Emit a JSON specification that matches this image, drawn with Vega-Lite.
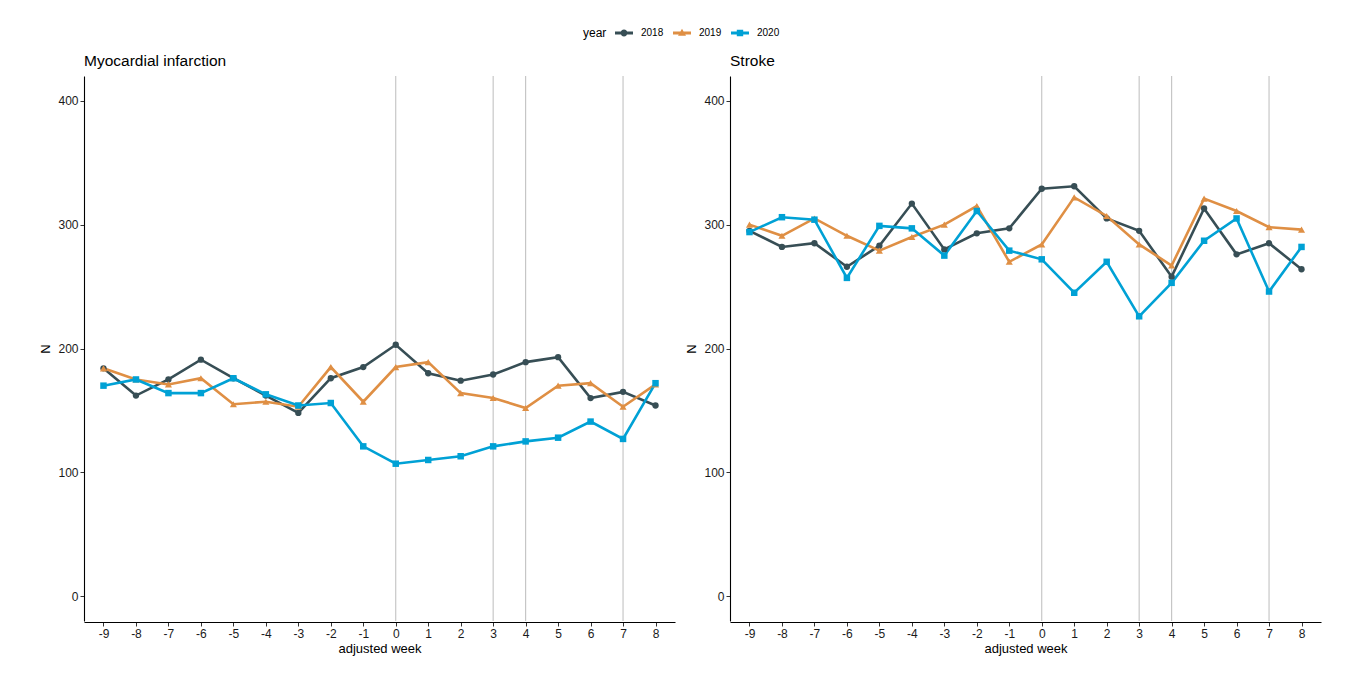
{
  "$schema": "https://vega.github.io/schema/vega-lite/v6.json",
  "background": "white",
  "padding": {"left": 39, "top": 28, "right": 5, "bottom": 5},
  "config": {
    "font": "Liberation Sans",
    "view": {"stroke": null},
    "axis": {"domainColor": "#000", "domainWidth": 1.1, "tickColor": "#333", "tickSize": 4, "tickWidth": 1, "labelColor": "#1a1a1a", "labelFontSize": 12, "labelPadding": 2, "titleFontSize": 13, "titleFontWeight": "normal", "titleColor": "#000", "labelFont": "Liberation Sans", "titleFont": "Liberation Sans", "grid": false},
    "axisY": {"titlePadding": 5},
    "axisX": {"titlePadding": 3}
  },
  "data": {"values": [
    {"panel":"Myocardial infarction","year":"2018","week":-9,"N":184},
    {"panel":"Myocardial infarction","year":"2018","week":-8,"N":162},
    {"panel":"Myocardial infarction","year":"2018","week":-7,"N":175},
    {"panel":"Myocardial infarction","year":"2018","week":-6,"N":191},
    {"panel":"Myocardial infarction","year":"2018","week":-5,"N":176},
    {"panel":"Myocardial infarction","year":"2018","week":-4,"N":162},
    {"panel":"Myocardial infarction","year":"2018","week":-3,"N":148},
    {"panel":"Myocardial infarction","year":"2018","week":-2,"N":176},
    {"panel":"Myocardial infarction","year":"2018","week":-1,"N":185},
    {"panel":"Myocardial infarction","year":"2018","week":0,"N":203},
    {"panel":"Myocardial infarction","year":"2018","week":1,"N":180},
    {"panel":"Myocardial infarction","year":"2018","week":2,"N":174},
    {"panel":"Myocardial infarction","year":"2018","week":3,"N":179},
    {"panel":"Myocardial infarction","year":"2018","week":4,"N":189},
    {"panel":"Myocardial infarction","year":"2018","week":5,"N":193},
    {"panel":"Myocardial infarction","year":"2018","week":6,"N":160},
    {"panel":"Myocardial infarction","year":"2018","week":7,"N":165},
    {"panel":"Myocardial infarction","year":"2018","week":8,"N":154},
    {"panel":"Myocardial infarction","year":"2019","week":-9,"N":184},
    {"panel":"Myocardial infarction","year":"2019","week":-8,"N":175},
    {"panel":"Myocardial infarction","year":"2019","week":-7,"N":171},
    {"panel":"Myocardial infarction","year":"2019","week":-6,"N":176},
    {"panel":"Myocardial infarction","year":"2019","week":-5,"N":155},
    {"panel":"Myocardial infarction","year":"2019","week":-4,"N":157},
    {"panel":"Myocardial infarction","year":"2019","week":-3,"N":153},
    {"panel":"Myocardial infarction","year":"2019","week":-2,"N":185},
    {"panel":"Myocardial infarction","year":"2019","week":-1,"N":157},
    {"panel":"Myocardial infarction","year":"2019","week":0,"N":185},
    {"panel":"Myocardial infarction","year":"2019","week":1,"N":189},
    {"panel":"Myocardial infarction","year":"2019","week":2,"N":164},
    {"panel":"Myocardial infarction","year":"2019","week":3,"N":160},
    {"panel":"Myocardial infarction","year":"2019","week":4,"N":152},
    {"panel":"Myocardial infarction","year":"2019","week":5,"N":170},
    {"panel":"Myocardial infarction","year":"2019","week":6,"N":172},
    {"panel":"Myocardial infarction","year":"2019","week":7,"N":153},
    {"panel":"Myocardial infarction","year":"2019","week":8,"N":171},
    {"panel":"Myocardial infarction","year":"2020","week":-9,"N":170},
    {"panel":"Myocardial infarction","year":"2020","week":-8,"N":175},
    {"panel":"Myocardial infarction","year":"2020","week":-7,"N":164},
    {"panel":"Myocardial infarction","year":"2020","week":-6,"N":164},
    {"panel":"Myocardial infarction","year":"2020","week":-5,"N":176},
    {"panel":"Myocardial infarction","year":"2020","week":-4,"N":163},
    {"panel":"Myocardial infarction","year":"2020","week":-3,"N":154},
    {"panel":"Myocardial infarction","year":"2020","week":-2,"N":156},
    {"panel":"Myocardial infarction","year":"2020","week":-1,"N":121},
    {"panel":"Myocardial infarction","year":"2020","week":0,"N":107},
    {"panel":"Myocardial infarction","year":"2020","week":1,"N":110},
    {"panel":"Myocardial infarction","year":"2020","week":2,"N":113},
    {"panel":"Myocardial infarction","year":"2020","week":3,"N":121},
    {"panel":"Myocardial infarction","year":"2020","week":4,"N":125},
    {"panel":"Myocardial infarction","year":"2020","week":5,"N":128},
    {"panel":"Myocardial infarction","year":"2020","week":6,"N":141},
    {"panel":"Myocardial infarction","year":"2020","week":7,"N":127},
    {"panel":"Myocardial infarction","year":"2020","week":8,"N":172},
    {"panel":"Stroke","year":"2018","week":-9,"N":295},
    {"panel":"Stroke","year":"2018","week":-8,"N":282},
    {"panel":"Stroke","year":"2018","week":-7,"N":285},
    {"panel":"Stroke","year":"2018","week":-6,"N":266},
    {"panel":"Stroke","year":"2018","week":-5,"N":283},
    {"panel":"Stroke","year":"2018","week":-4,"N":317},
    {"panel":"Stroke","year":"2018","week":-3,"N":280},
    {"panel":"Stroke","year":"2018","week":-2,"N":293},
    {"panel":"Stroke","year":"2018","week":-1,"N":297},
    {"panel":"Stroke","year":"2018","week":0,"N":329},
    {"panel":"Stroke","year":"2018","week":1,"N":331},
    {"panel":"Stroke","year":"2018","week":2,"N":305},
    {"panel":"Stroke","year":"2018","week":3,"N":295},
    {"panel":"Stroke","year":"2018","week":4,"N":258},
    {"panel":"Stroke","year":"2018","week":5,"N":313},
    {"panel":"Stroke","year":"2018","week":6,"N":276},
    {"panel":"Stroke","year":"2018","week":7,"N":285},
    {"panel":"Stroke","year":"2018","week":8,"N":264},
    {"panel":"Stroke","year":"2019","week":-9,"N":300},
    {"panel":"Stroke","year":"2019","week":-8,"N":291},
    {"panel":"Stroke","year":"2019","week":-7,"N":305},
    {"panel":"Stroke","year":"2019","week":-6,"N":291},
    {"panel":"Stroke","year":"2019","week":-5,"N":279},
    {"panel":"Stroke","year":"2019","week":-4,"N":290},
    {"panel":"Stroke","year":"2019","week":-3,"N":300},
    {"panel":"Stroke","year":"2019","week":-2,"N":315},
    {"panel":"Stroke","year":"2019","week":-1,"N":270},
    {"panel":"Stroke","year":"2019","week":0,"N":284},
    {"panel":"Stroke","year":"2019","week":1,"N":322},
    {"panel":"Stroke","year":"2019","week":2,"N":307},
    {"panel":"Stroke","year":"2019","week":3,"N":284},
    {"panel":"Stroke","year":"2019","week":4,"N":267},
    {"panel":"Stroke","year":"2019","week":5,"N":321},
    {"panel":"Stroke","year":"2019","week":6,"N":311},
    {"panel":"Stroke","year":"2019","week":7,"N":298},
    {"panel":"Stroke","year":"2019","week":8,"N":296},
    {"panel":"Stroke","year":"2020","week":-9,"N":294},
    {"panel":"Stroke","year":"2020","week":-8,"N":306},
    {"panel":"Stroke","year":"2020","week":-7,"N":304},
    {"panel":"Stroke","year":"2020","week":-6,"N":257},
    {"panel":"Stroke","year":"2020","week":-5,"N":299},
    {"panel":"Stroke","year":"2020","week":-4,"N":297},
    {"panel":"Stroke","year":"2020","week":-3,"N":275},
    {"panel":"Stroke","year":"2020","week":-2,"N":311},
    {"panel":"Stroke","year":"2020","week":-1,"N":279},
    {"panel":"Stroke","year":"2020","week":0,"N":272},
    {"panel":"Stroke","year":"2020","week":1,"N":245},
    {"panel":"Stroke","year":"2020","week":2,"N":270},
    {"panel":"Stroke","year":"2020","week":3,"N":226},
    {"panel":"Stroke","year":"2020","week":4,"N":253},
    {"panel":"Stroke","year":"2020","week":5,"N":287},
    {"panel":"Stroke","year":"2020","week":6,"N":305},
    {"panel":"Stroke","year":"2020","week":7,"N":246},
    {"panel":"Stroke","year":"2020","week":8,"N":282},
    {"panel":"Myocardial infarction","week":0,"vline":1},
    {"panel":"Myocardial infarction","week":3,"vline":1},
    {"panel":"Myocardial infarction","week":4,"vline":1},
    {"panel":"Myocardial infarction","week":7,"vline":1},
    {"panel":"Stroke","week":0,"vline":1},
    {"panel":"Stroke","week":3,"vline":1},
    {"panel":"Stroke","week":4,"vline":1},
    {"panel":"Stroke","week":7,"vline":1}
  ]},
  "facet": {"column": {"field": "panel", "type": "nominal", "sort": ["Myocardial infarction", "Stroke"], "header": {"title": null, "labelAnchor": "start", "labelFontSize": 15.5, "labelPadding": 6, "labelColor": "#000", "labelFont": "Liberation Sans"}}},
  "spacing": 10,
  "resolve": {"axis": {"y": "independent"}},
  "spec": {
    "width": 591,
    "height": 545,
    "encoding": {
      "x": {"field": "week", "type": "quantitative", "scale": {"domain": [-9.6, 8.6], "nice": false, "zero": false}, "axis": {"values": [-9,-8,-7,-6,-5,-4,-3,-2,-1,0,1,2,3,4,5,6,7,8], "labelExpr": "datum.value + ''", "title": "adjusted week", "grid": false}}
    },
    "layer": [
      {
        "transform": [{"filter": "datum.year == 'none'"}],
        "mark": {"type": "point", "filled": true, "size": 64, "opacity": 1},
        "encoding": {
          "y": {"field": "N", "type": "quantitative", "scale": {"domain": [-20, 420], "nice": false, "zero": false}, "axis": {"values": [0,100,200,300,400], "title": "N", "grid": false}},
          "color": {"field": "year", "type": "nominal", "scale": {"domain": ["2018","2019","2020"], "range": ["#374E55","#DF8F44","#00A1D5"]},
            "legend": {"title": "year", "orient": "none", "legendX": 499, "legendY": -48, "direction": "horizontal", "titleOrient": "left", "titleFontSize": 12, "titleFontWeight": "normal", "titleColor": "#000", "labelFontSize": 10, "labelColor": "#000", "labelOffset": 12, "columnPadding": 9, "titlePadding": 12, "symbolOpacity": 1, "symbolSize": 64, "symbolStrokeWidth": 0}},
          "shape": {"field": "year", "type": "nominal", "scale": {"domain": ["2018","2019","2020"], "range": [
            "M-2.25,-0.37H2.25V0.37H-2.25Z M0.85,0A0.85,0.85,0,1,1,-0.85,0A0.85,0.85,0,1,1,0.85,0Z",
            "M-2.25,-0.37H2.25V0.37H-2.25Z M0,-1.05L1.0,0.7L-1.0,0.7Z",
            "M-2.25,-0.37H2.25V0.37H-2.25Z M-0.8,-0.8H0.8V0.8H-0.8Z"]},
            "legend": {"title": "year", "orient": "none", "legendX": 499, "legendY": -48, "direction": "horizontal", "titleOrient": "left", "titleFontSize": 12, "titleFontWeight": "normal", "titleColor": "#000", "labelFontSize": 10, "labelColor": "#000", "labelOffset": 12, "columnPadding": 9, "titlePadding": 12, "symbolOpacity": 1, "symbolSize": 64, "symbolStrokeWidth": 0}}
        }
      },
      {
        "transform": [{"filter": "datum.vline == 1"}],
        "mark": {"type": "rule", "color": "#c2c2c2", "strokeWidth": 1.1},
        "encoding": {}
      },
      {
        "transform": [{"filter": "isValid(datum.year)"}],
        "mark": {"type": "line", "strokeWidth": 2.6},
        "encoding": {
          "y": {"field": "N", "type": "quantitative", "scale": {"domain": [-20, 420], "nice": false, "zero": false}, "axis": {"values": [0,100,200,300,400], "title": "N", "grid": false}},
          "color": {"field": "year", "type": "nominal", "scale": {"domain": ["2018","2019","2020"], "range": ["#374E55","#DF8F44","#00A1D5"]}}
        }
      },
      {
        "transform": [{"filter": "datum.year == '2018'"}],
        "mark": {"type": "point", "filled": true, "shape": "circle", "size": 40, "opacity": 1},
        "encoding": {
          "y": {"field": "N", "type": "quantitative", "scale": {"domain": [-20, 420], "nice": false, "zero": false}, "axis": {"values": [0,100,200,300,400], "title": "N", "grid": false}},
          "color": {"field": "year", "type": "nominal", "scale": {"domain": ["2018","2019","2020"], "range": ["#374E55","#DF8F44","#00A1D5"]}}
        }
      },
      {
        "transform": [{"filter": "datum.year == '2019'"}],
        "mark": {"type": "point", "filled": true, "shape": "triangle-up", "size": 50, "opacity": 1},
        "encoding": {
          "y": {"field": "N", "type": "quantitative", "scale": {"domain": [-20, 420], "nice": false, "zero": false}, "axis": {"values": [0,100,200,300,400], "title": "N", "grid": false}},
          "color": {"field": "year", "type": "nominal", "scale": {"domain": ["2018","2019","2020"], "range": ["#374E55","#DF8F44","#00A1D5"]}}
        }
      },
      {
        "transform": [{"filter": "datum.year == '2020'"}],
        "mark": {"type": "point", "filled": true, "shape": "square", "size": 42, "opacity": 1},
        "encoding": {
          "y": {"field": "N", "type": "quantitative", "scale": {"domain": [-20, 420], "nice": false, "zero": false}, "axis": {"values": [0,100,200,300,400], "title": "N", "grid": false}},
          "color": {"field": "year", "type": "nominal", "scale": {"domain": ["2018","2019","2020"], "range": ["#374E55","#DF8F44","#00A1D5"]}}
        }
      }
    ]
  }
}
